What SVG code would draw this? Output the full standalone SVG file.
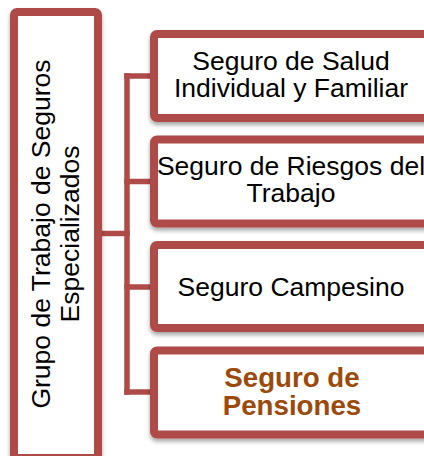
<svg xmlns="http://www.w3.org/2000/svg" width="424" height="456" viewBox="0 0 424 456">
  <style>
    .box { fill: #ffffff; stroke: #AE4B48; stroke-width: 8; filter: url(#shadow); }
    .conn { stroke: #AE4B48; stroke-width: 5.5; fill: none; stroke-linecap: square; }
    .t { font-family: "Liberation Sans", Arial, sans-serif; font-size: 26.5px; fill: #000000; text-anchor: middle; }
    .tb { font-family: "Liberation Sans", Arial, sans-serif; font-size: 27.7px; font-weight: bold; fill: #9C4A0C; text-anchor: middle; }
  </style>
  <defs>
    <filter id="shadow" x="-10%" y="-10%" width="120%" height="130%">
      <feDropShadow dx="0" dy="3" stdDeviation="2" flood-color="#000000" flood-opacity="0.35"/>
    </filter>
  </defs>
  <rect x="0" y="0" width="424" height="456" fill="#ffffff"/>
  <g id="connectors">
    <line class="conn" x1="102" y1="233.5" x2="127" y2="233.5"/>
    <line class="conn" x1="127" y1="76" x2="127" y2="392"/>
    <line class="conn" x1="127" y1="76" x2="150" y2="76"/>
    <line class="conn" x1="127" y1="181.5" x2="150" y2="181.5"/>
    <line class="conn" x1="127" y1="287" x2="150" y2="287"/>
    <line class="conn" x1="127" y1="392" x2="150" y2="392"/>
  </g>
  <g id="node-root">
    <rect class="box" x="14" y="12" width="84" height="446" rx="3"/>
    <text class="t" transform="translate(50,234) rotate(-90)">Grupo de Trabajo de Seguros</text>
    <text class="t" transform="translate(79,234) rotate(-90)">Especializados</text>
  </g>
  <g id="node-salud">
    <rect class="box" x="154" y="34" width="274" height="84" rx="3"/>
    <text class="t" x="291" y="69.5">Seguro de Salud</text>
    <text class="t" x="291" y="97">Individual y Familiar</text>
  </g>
  <g id="node-riesgos">
    <rect class="box" x="154" y="139.5" width="274" height="84" rx="3"/>
    <text class="t" x="291" y="175.2">Seguro de Riesgos del</text>
    <text class="t" x="291" y="202.4">Trabajo</text>
  </g>
  <g id="node-campesino">
    <rect class="box" x="154" y="245" width="274" height="83" rx="3"/>
    <text class="t" x="291" y="295.5">Seguro Campesino</text>
  </g>
  <g id="node-pensiones">
    <rect class="box" x="154" y="350.5" width="274" height="84" rx="3"/>
    <text class="tb" x="292" y="386.7">Seguro de</text>
    <text class="tb" x="292" y="415">Pensiones</text>
  </g>
</svg>
